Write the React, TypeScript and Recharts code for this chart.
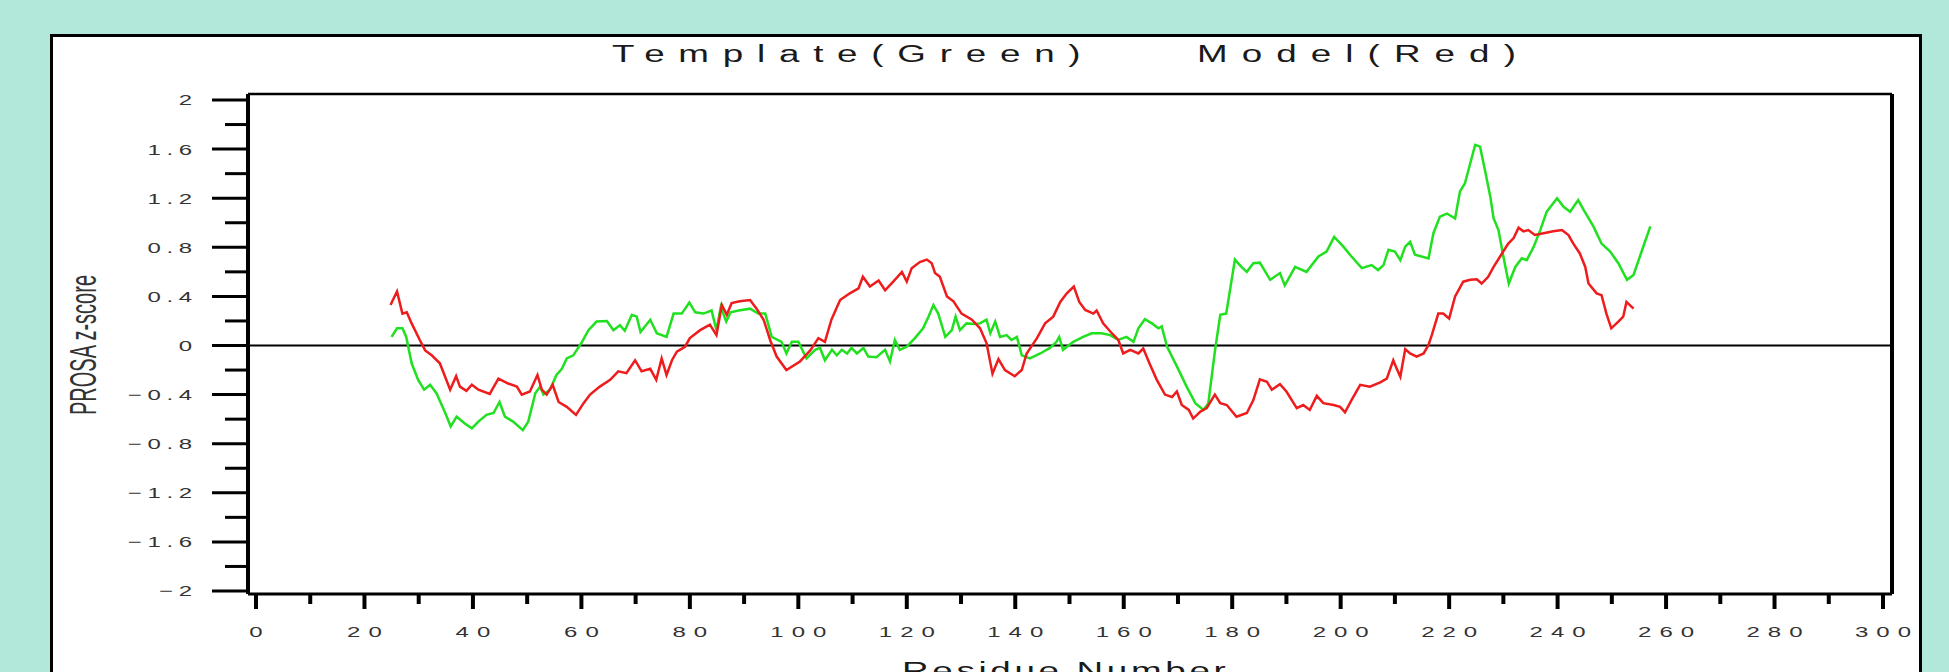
import { LineChart, Line, XAxis, YAxis, ReferenceLine } from 'recharts';

// PROSA z-score profiles (residue number, z-score)
const templateResidue = [
  25.0, 26.0, 27.0, 27.7, 28.7, 29.9, 31.0, 32.1, 33.3, 34.9, 35.9, 37.0, 38.5, 39.8, 41.0, 42.5, 43.8, 44.9,
  45.9, 47.4, 49.2, 50.2, 51.5, 52.4, 53.0, 54.2, 55.4, 56.4, 57.3, 58.5, 60.0, 61.3, 62.8, 64.7, 65.9, 67.1,
  68.0, 69.3, 70.2, 70.9, 72.7, 73.9, 75.7, 77.0, 78.5, 79.9, 81.0, 82.5, 84.0, 84.9, 85.7, 86.7, 87.5, 89.0,
  91.1, 92.6, 93.9, 95.1, 96.9, 97.8, 98.8, 100.0, 101.5, 103.1, 104.0, 104.9, 106.2, 107.1, 108.0, 109.0,
  109.8, 110.8, 112.0, 112.9, 114.4, 116.0, 116.9, 117.8, 118.7, 120.0, 121.5, 123.0, 124.0, 124.9, 125.8,
  127.1, 128.3, 129.0, 129.8, 131.0, 132.3, 133.5, 134.7, 135.4, 136.3, 137.2, 138.4, 139.3, 140.3, 141.2,
  142.7, 144.6, 146.4, 147.6, 148.1, 148.8, 150.7, 152.5, 154.1, 155.9, 157.5, 159.0, 160.5, 161.8, 162.7,
  163.9, 165.2, 166.4, 167.0, 168.0, 169.8, 171.6, 173.2, 174.7, 175.6, 176.8, 177.8, 178.9, 180.5, 181.7,
  182.7, 183.9, 185.1, 187.0, 188.8, 189.7, 191.6, 193.7, 195.9, 197.4, 198.8, 200.5, 202.0, 203.9, 205.7,
  206.9, 207.9, 208.8, 210.0, 211.0, 211.9, 212.8, 213.7, 216.2, 217.1, 218.3, 219.6, 221.1, 222.0, 222.9,
  223.9, 224.8, 225.7, 226.6, 227.6, 228.2, 229.1, 230.0, 231.0, 232.2, 233.4, 234.3, 235.6, 236.8, 238.0,
  239.9, 241.1, 242.3, 243.8, 244.8, 246.6, 248.1, 249.7, 251.2, 252.8, 254.0, 255.6, 257.1,
];
const templateScore = [
  0.07, 0.14, 0.14, 0.07, -0.145, -0.28, -0.36, -0.32, -0.39, -0.55, -0.66, -0.58, -0.635, -0.675, -0.62, -0.565, -0.55, -0.46,
  -0.58, -0.62, -0.69, -0.62, -0.39, -0.335, -0.4, -0.36, -0.24, -0.19, -0.105, -0.08, 0.02, 0.125, 0.195, 0.2, 0.125, 0.165,
  0.12, 0.25, 0.235, 0.11, 0.21, 0.1, 0.07, 0.26, 0.26, 0.35, 0.27, 0.26, 0.285, 0.125, 0.315, 0.195, 0.27, 0.285,
  0.3, 0.26, 0.26, 0.07, 0.03, -0.065, 0.03, 0.03, -0.105, -0.035, -0.02, -0.12, -0.035, -0.08, -0.035, -0.065,
  -0.02, -0.065, -0.02, -0.09, -0.095, -0.035, -0.13, 0.045, -0.035, -0.01, 0.06, 0.14, 0.235, 0.33, 0.26,
  0.07, 0.125, 0.235, 0.125, 0.18, 0.175, 0.18, 0.21, 0.1, 0.195, 0.07, 0.085, 0.045, 0.07, -0.08,
  -0.105, -0.065, -0.02, 0.03, 0.07, -0.035, 0.03, 0.07, 0.1, 0.1, 0.085, 0.045, 0.07, 0.03, 0.14,
  0.215, 0.18, 0.14, 0.155, -0.01, -0.17, -0.335, -0.47, -0.525, -0.47, -0.05, 0.25, 0.26, 0.7, 0.64,
  0.6, 0.67, 0.675, 0.535, 0.59, 0.49, 0.64, 0.6, 0.725, 0.765, 0.885, 0.805, 0.725, 0.63, 0.655,
  0.615, 0.655, 0.78, 0.765, 0.695, 0.805, 0.845, 0.74, 0.71, 0.915, 1.05, 1.075, 1.035, 1.255, 1.32,
  1.485, 1.635, 1.62, 1.43, 1.21, 1.035, 0.94, 0.725, 0.505, 0.64, 0.71, 0.695, 0.805, 0.94, 1.09,
  1.2, 1.13, 1.09, 1.185, 1.105, 0.97, 0.83, 0.765, 0.67, 0.535, 0.575, 0.78, 0.97,
];

const modelResidue = [
  24.8, 26.0, 27.0, 27.8, 28.7, 30.2, 31.2, 32.4, 33.9, 35.8, 36.9, 37.6, 38.8, 39.8, 41.0, 43.1, 44.7, 46.5,
  48.1, 49.0, 50.5, 51.9, 52.7, 53.6, 54.7, 55.8, 57.3, 59.0, 60.4, 61.6, 63.4, 65.3, 66.8, 68.3, 69.9, 71.1,
  72.7, 73.8, 74.8, 75.7, 76.7, 77.6, 79.1, 80.0, 81.9, 83.7, 84.9, 85.9, 86.8, 87.7, 89.2, 91.1, 92.3, 93.6,
  94.8, 96.0, 97.8, 100.3, 102.2, 103.7, 104.9, 106.1, 107.7, 109.5, 111.1, 111.9, 113.2, 114.8, 116.0, 117.5,
  119.1, 120.0, 120.9, 122.4, 123.7, 124.6, 125.2, 126.1, 127.4, 128.6, 130.1, 132.0, 133.5, 134.7, 135.8,
  136.9, 138.1, 139.9, 141.2, 142.1, 144.0, 145.5, 147.0, 148.3, 149.5, 150.8, 151.8, 152.9, 154.4, 155.0,
  156.2, 157.8, 159.0, 159.9, 161.2, 162.7, 163.6, 164.9, 166.1, 167.6, 168.9, 169.8, 170.7, 172.0, 172.8,
  174.1, 175.3, 176.8, 177.8, 179.0, 180.8, 182.7, 183.9, 185.1, 186.4, 187.3, 188.8, 190.0, 191.9, 193.1,
  194.3, 195.6, 196.8, 198.7, 199.9, 200.8, 202.0, 203.6, 205.4, 207.3, 208.5, 209.7, 210.3, 211.0, 211.9,
  212.8, 214.0, 215.3, 216.2, 216.8, 218.0, 218.9, 220.0, 221.1, 222.6, 223.9, 225.1, 226.0, 227.2, 228.2,
  229.4, 230.9, 231.9, 232.8, 233.7, 234.6, 235.8, 237.4, 239.2, 240.8, 242.0, 242.9, 244.1, 245.1, 245.7,
  247.2, 248.1, 249.0, 249.9, 251.2, 252.1, 252.7, 254.0,
];
const modelScore = [
  0.33, 0.44, 0.26, 0.27, 0.18, 0.045, -0.04, -0.08, -0.145, -0.36, -0.25, -0.335, -0.37, -0.32, -0.36, -0.395, -0.27, -0.31,
  -0.335, -0.4, -0.375, -0.24, -0.36, -0.4, -0.32, -0.46, -0.5, -0.565, -0.47, -0.4, -0.335, -0.28, -0.21, -0.225, -0.12, -0.21,
  -0.19, -0.28, -0.105, -0.24, -0.12, -0.05, -0.01, 0.06, 0.125, 0.17, 0.085, 0.33, 0.25, 0.345, 0.36, 0.37, 0.3, 0.21,
  0.045, -0.09, -0.2, -0.13, -0.04, 0.06, 0.03, 0.21, 0.37, 0.425, 0.465, 0.56, 0.48, 0.53, 0.45, 0.52,
  0.6, 0.52, 0.63, 0.68, 0.7, 0.67, 0.59, 0.56, 0.4, 0.36, 0.26, 0.21, 0.14, 0.02, -0.23,
  -0.11, -0.2, -0.25, -0.2, -0.065, 0.06, 0.18, 0.235, 0.355, 0.425, 0.48, 0.355, 0.29, 0.26, 0.285,
  0.18, 0.1, 0.045, -0.065, -0.035, -0.065, -0.025, -0.16, -0.28, -0.4, -0.42, -0.375, -0.485, -0.525, -0.595,
  -0.54, -0.51, -0.4, -0.47, -0.485, -0.58, -0.55, -0.445, -0.275, -0.295, -0.36, -0.315, -0.375, -0.51, -0.485,
  -0.525, -0.41, -0.47, -0.485, -0.5, -0.545, -0.445, -0.32, -0.335, -0.3, -0.27, -0.12, -0.185, -0.255, -0.03,
  -0.065, -0.09, -0.065, 0.005, 0.085, 0.26, 0.26, 0.22, 0.4, 0.52, 0.535, 0.54, 0.505, 0.56, 0.64,
  0.725, 0.83, 0.875, 0.96, 0.93, 0.94, 0.9, 0.915, 0.93, 0.94, 0.9, 0.83, 0.75, 0.64, 0.505,
  0.425, 0.41, 0.26, 0.14, 0.195, 0.235, 0.355, 0.3,
];

const xLabeledTicks = [0, 20, 40, 60, 80, 100, 120, 140, 160, 180, 200, 220, 240, 260, 280, 300];
const xMinorTicks = [10, 30, 50, 70, 90, 110, 130, 150, 170, 190, 210, 230, 250, 270, 290];
const yLabeledTicks = [2, 1.6, 1.2, 0.8, 0.4, 0, -0.4, -0.8, -1.2, -1.6, -2];
const yMinorTicks = [1.8, 1.4, 1.0, 0.6, 0.2, -0.2, -0.6, -1.0, -1.4, -1.8];

const templateData = templateResidue.map((r, i) => ({ residue: r, score: templateScore[i] }));
const modelData = modelResidue.map((r, i) => ({ residue: r, score: modelScore[i] }));

const FONT = '"Liberation Sans", Arial, Helvetica, sans-serif';
const STRETCH = 1.6; // the original picture is stretched sideways

function YTick(props: any) {
  const { x, y, payload } = props;
  const major = yLabeledTicks.includes(payload.value);
  const len = major ? 36 : 23;
  const v = payload.value;
  const label = v < 0 ? '\u2212' + String(Math.abs(v)) : String(v);
  const ls = 3.5;
  return (
    <g>
      <line x1={x - len} y1={y} x2={x} y2={y} stroke="#000" strokeWidth={3} />
      {major && (
        <text
          transform={`translate(${x - 56 + STRETCH * ls},${y}) scale(${STRETCH},1)`}
          dy="0.36em"
          textAnchor="end"
          fontSize={15}
          letterSpacing={ls}
          fontFamily={FONT}
          fill="#333"
        >
          {label}
        </text>
      )}
    </g>
  );
}

function XTick(props: any) {
  const { x, y, payload } = props;
  const major = xLabeledTicks.includes(payload.value);
  const ls = 5;
  return (
    <g>
      <line x1={x} y1={y} x2={x} y2={y + (major ? 15 : 10)} stroke="#000" strokeWidth={4} />
      {major && (
        <text
          transform={`translate(${x + (STRETCH * ls) / 2},${y + 43}) scale(${STRETCH},1)`}
          textAnchor="middle"
          fontSize={15}
          letterSpacing={ls}
          fontFamily={FONT}
          fill="#333"
        >
          {payload.value}
        </text>
      )}
    </g>
  );
}

export default function App() {
  return (
    <div style={{ position: 'absolute', left: 0, top: 0, width: 1949, height: 672, background: '#b1e8da', overflow: 'hidden' }}>
      <div
        style={{
          position: 'absolute',
          left: 50,
          top: 34,
          width: 1872,
          height: 700,
          background: '#fff',
          border: '3px solid #000',
          boxSizing: 'border-box',
        }}
      />
      <div style={{ position: 'absolute', left: 0, top: 0 }}>
        <LineChart width={1949} height={672} margin={{ top: 84, right: 47, bottom: 18, left: 188 }}>
          <XAxis
            dataKey="residue"
            type="number"
            domain={[0, 300]}
            ticks={[...xLabeledTicks, ...xMinorTicks]}
            interval={0}
            padding={{ left: 8, right: 9 }}
            height={60}
            tickSize={0}
            tickMargin={0}
            tick={<XTick />}
            axisLine={{ stroke: '#000', strokeWidth: 3 }}
          />
          <XAxis
            xAxisId="top"
            orientation="top"
            type="number"
            domain={[0, 300]}
            height={10}
            tick={false}
            tickLine={false}
            axisLine={{ stroke: '#000', strokeWidth: 2.5 }}
          />
          <YAxis
            type="number"
            domain={[-2, 2]}
            ticks={[...yLabeledTicks, ...yMinorTicks]}
            interval={0}
            padding={{ top: 6, bottom: 3 }}
            width={60}
            tickSize={0}
            tickMargin={0}
            tick={<YTick />}
            axisLine={{ stroke: '#000', strokeWidth: 4 }}
          />
          <YAxis
            yAxisId="right"
            orientation="right"
            type="number"
            domain={[-2, 2]}
            width={10}
            tick={false}
            tickLine={false}
            axisLine={{ stroke: '#000', strokeWidth: 4 }}
          />
          <ReferenceLine y={0} stroke="#000" strokeWidth={2} />
          <Line
            data={templateData}
            dataKey="score"
            type="linear"
            stroke="#20e020"
            strokeWidth={2.5}
            dot={false}
            isAnimationActive={false}
          />
          <Line
            data={modelData}
            dataKey="score"
            type="linear"
            stroke="#ee1c1c"
            strokeWidth={2.5}
            dot={false}
            isAnimationActive={false}
          />
          <text transform={`translate(612,62) scale(${STRETCH},1)`} fontSize={23} letterSpacing={8.6} fontFamily={FONT} fill="#1a1a1a">
            Template(Green)
          </text>
          <text transform={`translate(1197,62) scale(${STRETCH},1)`} fontSize={23} letterSpacing={8.8} fontFamily={FONT} fill="#1a1a1a">
            Model(Red)
          </text>
          <text transform="translate(96,345) rotate(-90) scale(1,1.8)" textAnchor="middle" fontSize={20} fontFamily={FONT} fill="#333">
            PROSA z-score
          </text>
          <text transform={`translate(902,679) scale(${STRETCH},1)`} fontSize={23} letterSpacing={2.3} fontFamily={FONT} fill="#1a1a1a">
            Residue Number
          </text>
        </LineChart>
      </div>
    </div>
  );
}
